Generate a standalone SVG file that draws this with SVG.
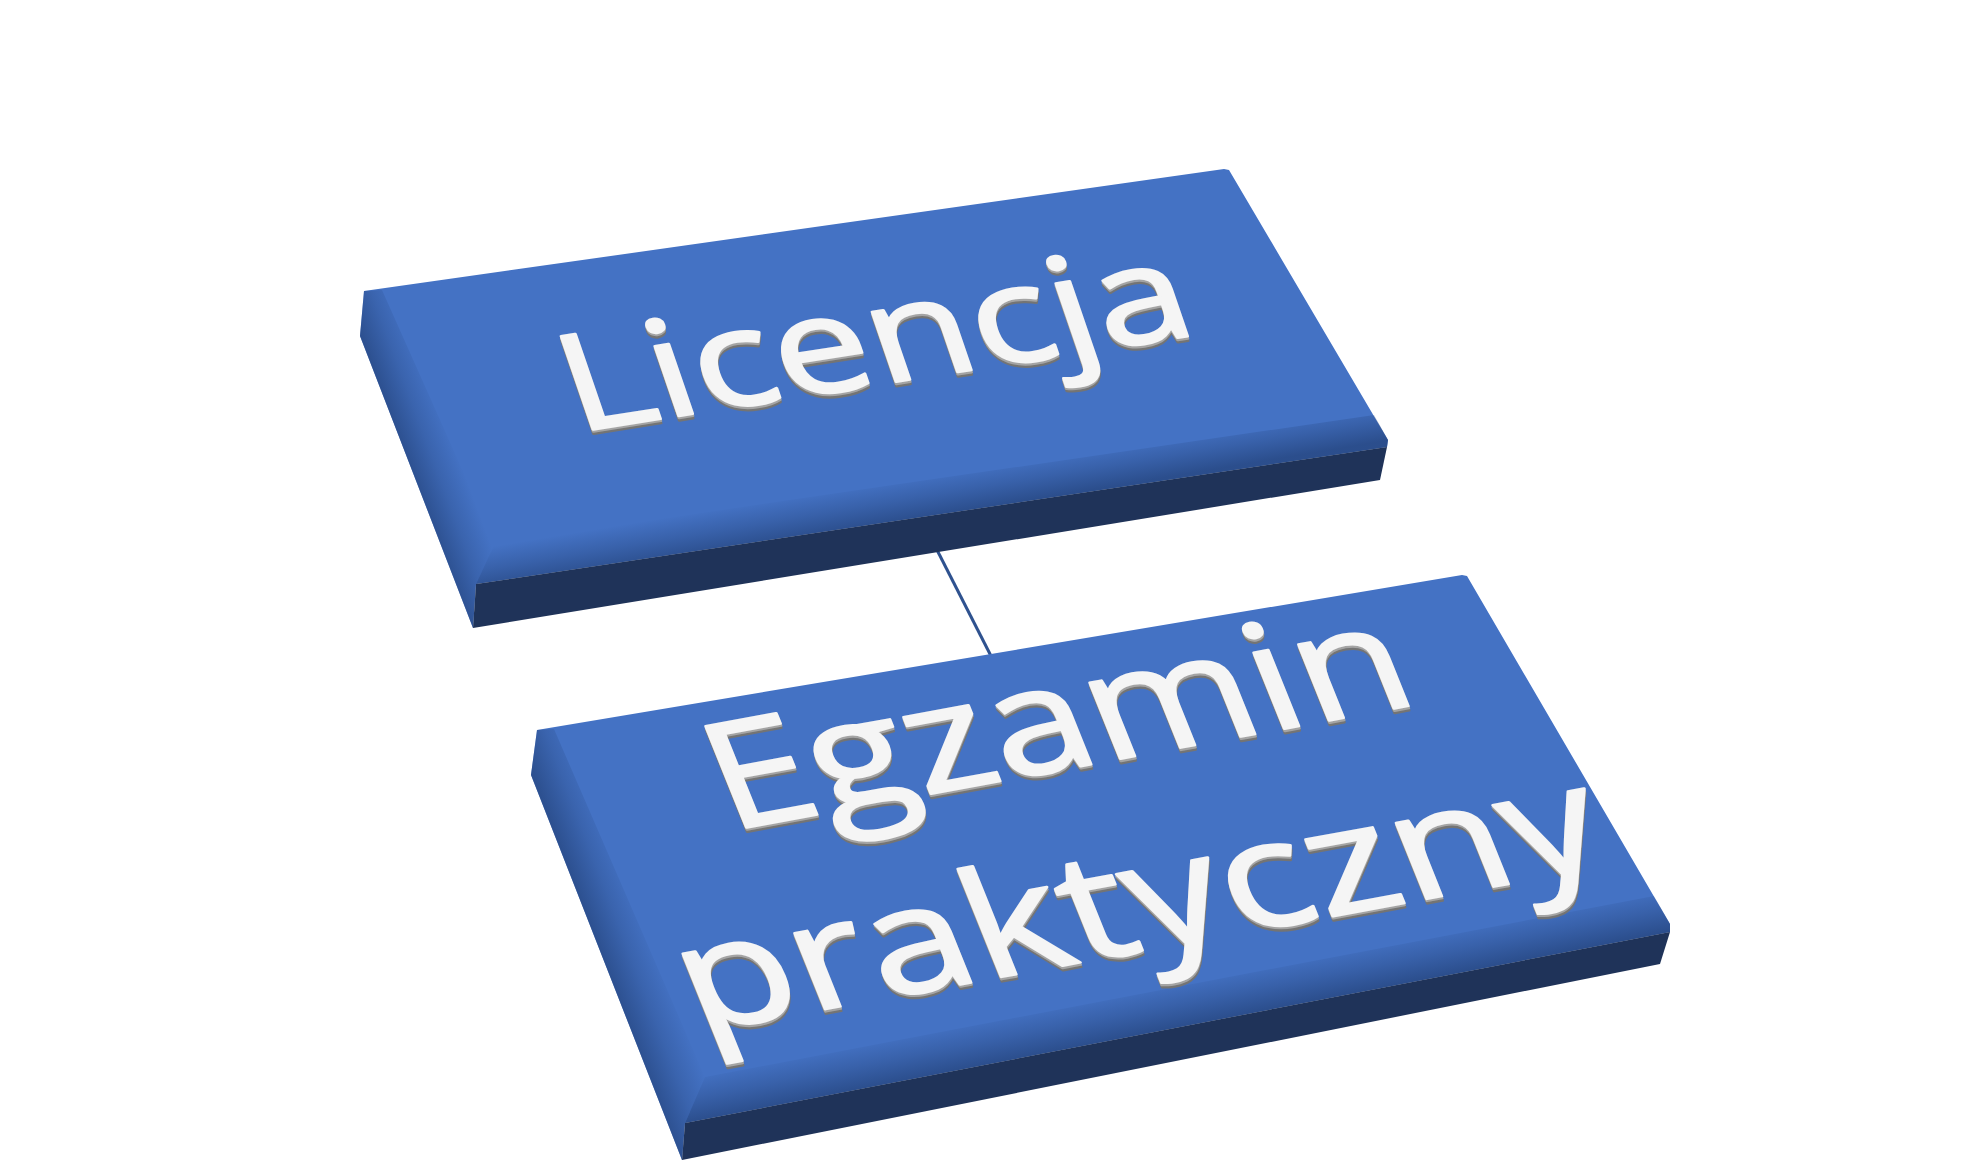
<svg xmlns="http://www.w3.org/2000/svg" width="1980" height="1168" viewBox="0 0 1980 1168">
<style>
  .face { fill: #4472C4; }
  .front { fill: #1F3359; }
  .conn { stroke: #2F528F; stroke-width: 3; fill: none; }
  .lbl { font-family: "Open Sans", "Liberation Sans", sans-serif; font-weight: 400; fill: #F5F5F5; stroke: #F5F5F5; stroke-width: 2.5; stroke-linejoin: round; }
  .sh1 { font-family: "Open Sans", "Liberation Sans", sans-serif; font-weight: 400; fill: #747474; stroke: #747474; stroke-width: 2.5; stroke-linejoin: round; }
  .sh2 { font-family: "Open Sans", "Liberation Sans", sans-serif; font-weight: 400; fill: #A4A4A4; stroke: #A4A4A4; stroke-width: 2.5; stroke-linejoin: round; }
</style>
<defs>
  <linearGradient id="gBevelTop" gradientUnits="userSpaceOnUse" x1="927" y1="474" x2="934" y2="516">
    <stop offset="0" stop-color="#23427A" stop-opacity="0"/>
    <stop offset="0.5" stop-color="#23427A" stop-opacity="0.35"/>
    <stop offset="1" stop-color="#23427A" stop-opacity="0.75"/>
  </linearGradient>
  <linearGradient id="gLeftTop" gradientUnits="userSpaceOnUse" x1="400" y1="440" x2="446" y2="423">
    <stop offset="0" stop-color="#23427A" stop-opacity="0.7"/>
    <stop offset="0.5" stop-color="#23427A" stop-opacity="0.3"/>
    <stop offset="1" stop-color="#23427A" stop-opacity="0"/>
  </linearGradient>
  <linearGradient id="gBevelBot" gradientUnits="userSpaceOnUse" x1="1171" y1="981" x2="1180" y2="1027">
    <stop offset="0" stop-color="#23427A" stop-opacity="0"/>
    <stop offset="0.5" stop-color="#23427A" stop-opacity="0.35"/>
    <stop offset="1" stop-color="#23427A" stop-opacity="0.75"/>
  </linearGradient>
  <linearGradient id="gLeftBot" gradientUnits="userSpaceOnUse" x1="600" y1="950" x2="650" y2="931">
    <stop offset="0" stop-color="#23427A" stop-opacity="0.7"/>
    <stop offset="0.5" stop-color="#23427A" stop-opacity="0.3"/>
    <stop offset="1" stop-color="#23427A" stop-opacity="0"/>
  </linearGradient>
</defs>

<g id="connectors">
  <line class="conn" x1="936" y1="548" x2="991" y2="656"/>
</g>

<g id="node-licencja">
  <polygon class="face" points="364,291 1224,169 1229,170 1388,440 1387,447 476,584 473,628 360,336"/>
  <polygon fill="url(#gLeftTop)" points="364,291 360,336 473,628 476,584 495,543 382,290"/>
  <polygon fill="url(#gBevelTop)" points="495,543 1374,415 1388,440 1387,447 476,584"/>
  <polygon class="front" points="476,584 1387,447 1380,480 473,628"/>
  <g transform="translate(889,383) rotate(-8.9) skewX(10)">
    <g transform="translate(-1,4.5)"><text class="sh1" x="0" y="0" font-size="136" text-anchor="middle" textLength="632" lengthAdjust="spacingAndGlyphs">Licencja</text></g>
    <g transform="translate(-0.5,2.2)"><text class="sh2" x="0" y="0" font-size="136" text-anchor="middle" textLength="632" lengthAdjust="spacingAndGlyphs">Licencja</text></g>
    <text class="lbl" x="0" y="0" font-size="136" text-anchor="middle" textLength="632" lengthAdjust="spacingAndGlyphs">Licencja</text>
  </g>
</g>

<g id="node-egzamin">
  <polygon class="face" points="537,730 1462,575 1467,576 1670,924 1670,932 685,1123 682,1160 531,775"/>
  <polygon fill="url(#gLeftBot)" points="537,730 531,775 682,1160 685,1123 705,1077 554,729"/>
  <polygon fill="url(#gBevelBot)" points="705,1077 1654,896 1670,924 1670,932 685,1123"/>
  <polygon class="front" points="685,1123 1670,932 1660,964 682,1160"/>
  <g transform="translate(1076,767) rotate(-10.4) skewX(11.5)">
    <g transform="translate(-1,4.5)">
      <text class="sh1" x="0" y="0" font-size="150" text-anchor="middle" textLength="705" lengthAdjust="spacingAndGlyphs">Egzamin</text>
      <text class="sh1" x="7" y="193" font-size="150" text-anchor="middle" textLength="932" lengthAdjust="spacingAndGlyphs">praktyczny</text>
    </g>
    <g transform="translate(-0.5,2.2)">
      <text class="sh2" x="0" y="0" font-size="150" text-anchor="middle" textLength="705" lengthAdjust="spacingAndGlyphs">Egzamin</text>
      <text class="sh2" x="7" y="193" font-size="150" text-anchor="middle" textLength="932" lengthAdjust="spacingAndGlyphs">praktyczny</text>
    </g>
    <text class="lbl" x="0" y="0" font-size="150" text-anchor="middle" textLength="705" lengthAdjust="spacingAndGlyphs">Egzamin</text>
    <text class="lbl" x="7" y="193" font-size="150" text-anchor="middle" textLength="932" lengthAdjust="spacingAndGlyphs">praktyczny</text>
  </g>
</g>
</svg>
